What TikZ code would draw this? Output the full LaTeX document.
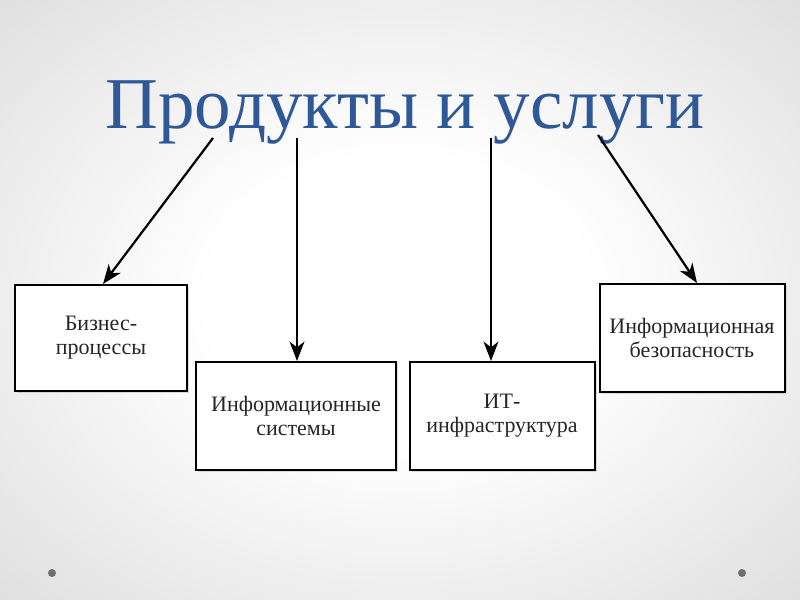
\documentclass[tikz,border=0pt]{standalone}
\usepackage{fontspec}
\setmainfont{Liberation Serif}
\usetikzlibrary{arrows.meta, shadows}

\definecolor{titleblue}{RGB}{46,88,150}
\definecolor{dotgray}{RGB}{110,110,110}
\pgfdeclareradialshading{slidebg}{\pgfpoint{0bp}{0bp}}{color(0bp)=(white); color(12bp)=(white); color(50bp)=(black!20)}

\begin{document}
\begin{tikzpicture}[
    x=0.5pt, y=-0.5pt,
    area_block/.style={
            rectangle,
            draw,
            line width=1pt,
            fill=white,
            align=center,
            text=black!85,
            font=\fontsize{11}{12}\selectfont,
            drop shadow={shadow xshift=1.2pt, shadow yshift=-1.2pt, opacity=0.25}
        },
    arrow/.style={-{Stealth[length=3.4mm, width=2.6mm, inset=1mm]}, line width=1.1pt, black},
    ]

    % --- Background ---
    \useasboundingbox (0,0) rectangle (800,600);
    \shade[shading=slidebg] (0,0) rectangle (800,600);
    \fill[dotgray] (52,573) circle (2pt);
    \fill[dotgray] (742,573) circle (2pt);

    % --- Title ---
    \node[anchor=base, inner sep=0, text=titleblue, font=\fontsize{36.5}{40}\selectfont] (title) at (405,128) {Продукты и услуги};

    % --- Areas ---
    \node[area_block, minimum width=86pt, minimum height=53pt] (business) at (101,338) {Бизнес-\\процессы};
    \node[area_block, minimum width=100pt, minimum height=54pt] (infosys) at (296,416) {Информационные\\системы};
    \node[area_block, minimum width=92.5pt, minimum height=54pt] (itinfra) at (502,416) {ИТ-\\инфраструктура};
    \node[area_block, minimum width=92.5pt, minimum height=54pt] (security) at (692,338) {Информационная\\безопасность};

    % --- Arrows ---
    \coordinate (from_business) at (213,138);
    \coordinate (from_infosys) at (297,138);
    \coordinate (from_itinfra) at (491,138);
    \coordinate (from_security) at (598,135);

    \draw[arrow] (from_business) -- ([xshift=1pt]business.north);
    \draw[arrow] (from_infosys) -- (from_infosys |- infosys.north);
    \draw[arrow] (from_itinfra) -- (from_itinfra |- itinfra.north);
    \draw[arrow] (from_security) -- ([xshift=2.5pt]security.north);

\end{tikzpicture}
\end{document}
